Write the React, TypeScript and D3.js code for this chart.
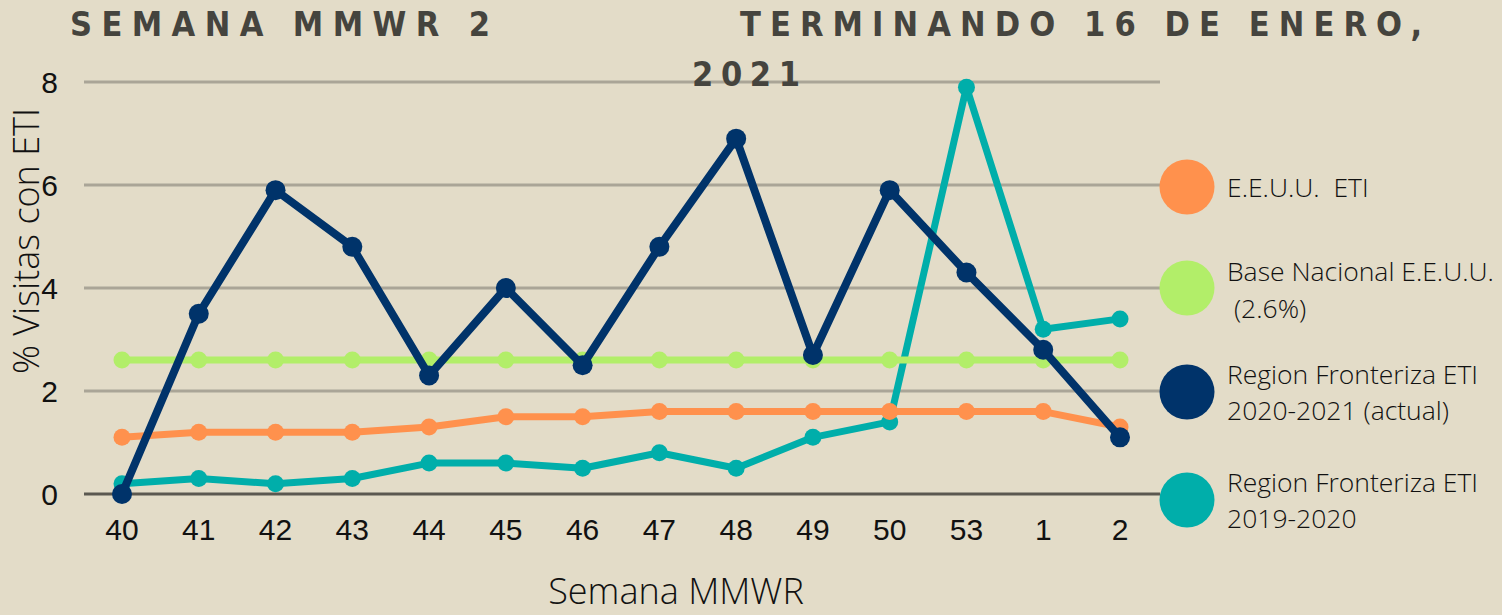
import React from "react";
import * as d3 from "d3";

const weeks = ["40", "41", "42", "43", "44", "45", "46", "47", "48", "49", "50", "53", "1", "2"];
const usEti = [1.1, 1.2, 1.2, 1.2, 1.3, 1.5, 1.5, 1.6, 1.6, 1.6, 1.6, 1.6, 1.6, 1.3];
const baseline = [2.6, 2.6, 2.6, 2.6, 2.6, 2.6, 2.6, 2.6, 2.6, 2.6, 2.6, 2.6, 2.6, 2.6];
const border2021 = [0, 3.5, 5.9, 4.8, 2.3, 4.0, 2.5, 4.8, 6.9, 2.7, 5.9, 4.3, 2.8, 1.1];
const border1920 = [0.2, 0.3, 0.2, 0.3, 0.6, 0.6, 0.5, 0.8, 0.5, 1.1, 1.4, 7.9, 3.2, 3.4];
const yTicks = [0, 2, 4, 6, 8];

// legend order (top to bottom)
const legendItems = [
  { lines: ["E.E.U.U.  ETI"], color: "#ff914d" },
  { lines: ["Base Nacional E.E.U.U.", " (2.6%)"], color: "#b2ee69" },
  { lines: ["Region Fronteriza ETI", "2020-2021 (actual)"], color: "#00336a" },
  { lines: ["Region Fronteriza ETI", "2019-2020"], color: "#00aeaa" },
];

// draw order bottom -> top
const series = [
  { name: "1920", values: border1920, color: "#00aeaa", width: 7, r: 8.5 },
  { name: "base", values: baseline, color: "#b2ee69", width: 7, r: 8.5 },
  { name: "us", values: usEti, color: "#ff914d", width: 7, r: 8.5 },
  { name: "2021", values: border2021, color: "#00336a", width: 8, r: 10 },
];

const W = 1502;
const H = 615;

export default function App() {
  const x = d3.scalePoint<string>().domain(weeks).range([122, 1120]);
  const y = d3.scaleLinear().domain([0, 8]).range([494, 82]);

  const line = d3
    .line<number>()
    .x((_, i) => x(weeks[i]) as number)
    .y((d) => y(d));

  const legendY = [187, 288, 392, 500];
  const legendText = [[197], [281, 318], [384, 420], [492, 528]];

  return (
    <svg width={W} height={H} style={{ position: "absolute", left: 0, top: 0 }}>
      <rect width={W} height={H} fill="#e3dcc8" />

      {/* grid */}
      {yTicks.map((t) => (
        <line
          key={`g-${t}`}
          x1={84}
          x2={1160}
          y1={y(t)}
          y2={y(t)}
          stroke={t === 0 ? "#5b5850" : "#aaa597"}
          strokeWidth={3}
        />
      ))}

      {/* y ticks */}
      {yTicks.map((t) => (
        <text
          key={`yt-${t}`}
          x={58}
          y={y(t)}
          textAnchor="end"
          dominantBaseline="central"
          fontFamily="'Liberation Sans', Arial, sans-serif"
          fontSize={30}
          fill="#111"
        >
          {t}
        </text>
      ))}

      {/* x ticks */}
      {weeks.map((w) => (
        <text
          key={`xt-${w}`}
          x={x(w)}
          y={540}
          textAnchor="middle"
          fontFamily="'Liberation Sans', Arial, sans-serif"
          fontSize={30}
          fill="#111"
        >
          {w}
        </text>
      ))}

      {/* series */}
      {series.map((s) => (
        <g key={s.name}>
          <path d={line(s.values) as string} fill="none" stroke={s.color} strokeWidth={s.width} strokeLinejoin="round" />
          {s.values.map((v, i) => (
            <circle key={i} cx={x(weeks[i])} cy={y(v)} r={s.r} fill={s.color} />
          ))}
        </g>
      ))}

      {/* title */}
      <g fontFamily="'Liberation Sans Narrow', 'DejaVu Sans Condensed', sans-serif" fontWeight="bold" fontSize={34} fill="#45443e">
        <text x={70} y={36} textLength={420} lengthAdjust="spacing">SEMANA MMWR 2</text>
        <text x={740} y={36} textLength={682} lengthAdjust="spacing">TERMINANDO 16 DE ENERO,</text>
        <text x={692} y={86} textLength={108} lengthAdjust="spacing">2021</text>
      </g>

      {/* axis titles */}
      <text
        transform="translate(39, 241) rotate(-90)"
        textAnchor="middle"
        fontFamily="'Open Sans', sans-serif"
        fontWeight={300}
        fontSize={36}
        fill="#111"
      >
        % Visitas con ETI
      </text>
      <text
        x={676}
        y={604}
        textAnchor="middle"
        fontFamily="'Open Sans', sans-serif"
        fontWeight={300}
        fontSize={36}
        fill="#111"
      >
        Semana MMWR
      </text>

      {/* legend */}
      {legendItems.map((item, i) => (
        <g key={`lg-${i}`}>
          <circle cx={1187} cy={legendY[i]} r={27.5} fill={item.color} />
          {item.lines.map((ln, j) => (
            <text
              key={j}
              x={1227}
              y={legendText[i][j]}
              fontFamily="'Open Sans', sans-serif"
              fontWeight={300}
              fontSize={26.5}
              fill="#111"
              style={{ whiteSpace: "pre" }}
            >
              {ln}
            </text>
          ))}
        </g>
      ))}
    </svg>
  );
}
